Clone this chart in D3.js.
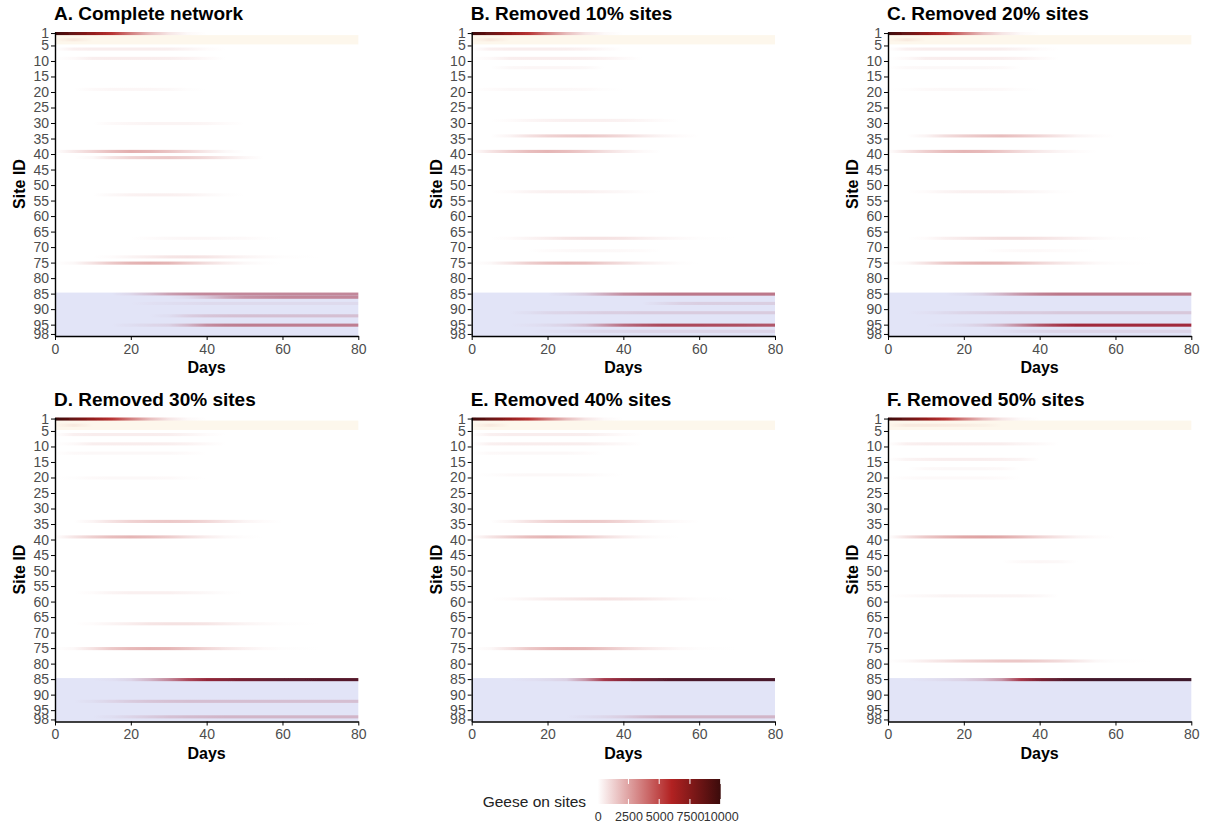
<!DOCTYPE html>
<html lang="en">
<head>
<meta charset="UTF-8">
<script src="https://d3js.org/d3.v7.min.js"></script>
<style>
  body { margin: 0; background: #fff; }
  svg text { font-family: "Liberation Sans", Arial, sans-serif; }
  .tick text { fill: #4d4d4d; font-size: 14px; }
  .tick line { stroke: #000; }
  .domain { stroke: #000; stroke-width: 1.4px; }
  .panel-title { font-size: 19px; font-weight: bold; fill: #000; }
  .axis-title { font-size: 16px; font-weight: bold; fill: #000; }
  .legend-title { font-size: 15.5px; fill: #222; }
  .legend .tick text { fill: #333; font-size: 12.5px; }
</style>
</head>
<body>
<svg width="1211" height="829"></svg>
<script>
// site ids, ticks
var siteIds = d3.range(1, 99);
var siteTicks = [1, 5, 10, 15, 20, 25, 30, 35, 40, 45, 50, 55, 60, 65, 70, 75, 80, 85, 90, 95, 98];
var dayTicks = [0, 20, 40, 60, 80];
var legendTicks = [0, 2500, 5000, 7500, 10000];
var yellowSites = [2, 4];
var blueSites = [85, 98];

var panelTitles = ["A. Complete network", "B. Removed 10% sites", "C. Removed 20% sites",
                   "D. Removed 30% sites", "E. Removed 40% sites", "F. Removed 50% sites"];

var stopDays = [0, 5, 10, 15, 20, 25, 30, 35, 40, 45, 50, 55, 60, 70, 80];

var sitesA = [1, 3, 6, 9, 19, 30, 39, 41, 53, 67, 73, 75, 85, 86, 88, 92, 95];
var geeseA = [
  [10000, 8500, 7000, 5500, 3500, 1800, 700, 150, 0, 0, 0, 0, 0, 0, 0],
  [0, 400, 0, 0, 0, 0, 0, 0, 0, 0, 0, 0, 0, 0, 0],
  [0, 400, 500, 500, 500, 500, 450, 300, 100, 0, 0, 0, 0, 0, 0],
  [0, 150, 450, 500, 500, 500, 450, 350, 150, 0, 0, 0, 0, 0, 0],
  [0, 0, 150, 250, 250, 250, 200, 50, 0, 0, 0, 0, 0, 0, 0],
  [0, 0, 0, 150, 250, 300, 300, 300, 250, 100, 0, 0, 0, 0, 0],
  [0, 600, 1200, 1800, 2200, 2000, 1600, 1100, 600, 200, 0, 0, 0, 0, 0],
  [0, 0, 200, 800, 1200, 1400, 1500, 1300, 1000, 600, 250, 0, 0, 0, 0],
  [0, 0, 0, 200, 350, 400, 400, 350, 200, 50, 0, 0, 0, 0, 0],
  [0, 0, 0, 0, 0, 100, 200, 250, 250, 200, 150, 50, 0, 0, 0],
  [0, 0, 0, 100, 300, 500, 700, 800, 700, 500, 300, 150, 50, 0, 0],
  [0, 200, 800, 1500, 2000, 2200, 2000, 1400, 900, 500, 200, 50, 0, 0, 0],
  [0, 0, 0, 0, 400, 1200, 2200, 2800, 3000, 3000, 3000, 3000, 3000, 3000, 3000],
  [0, 0, 0, 0, 0, 0, 0, 300, 1000, 2000, 2600, 2800, 3000, 3000, 3000],
  [0, 0, 0, 0, 0, 100, 200, 250, 300, 300, 300, 300, 300, 300, 300],
  [0, 0, 0, 0, 0, 0, 200, 700, 1000, 1100, 1200, 1200, 1200, 1200, 1200],
  [0, 0, 0, 0, 200, 400, 600, 1500, 2800, 3200, 3300, 3300, 3300, 3300, 3300]
];

var sitesB = [1, 3, 6, 9, 12, 19, 29, 34, 39, 52, 67, 71, 75, 85, 88, 91, 95, 97];
var geeseB = [
  [10000, 8500, 7000, 5500, 3500, 1800, 700, 150, 0, 0, 0, 0, 0, 0, 0],
  [0, 400, 0, 0, 0, 0, 0, 0, 0, 0, 0, 0, 0, 0, 0],
  [0, 400, 500, 500, 500, 450, 350, 150, 0, 0, 0, 0, 0, 0, 0],
  [0, 150, 450, 500, 500, 500, 450, 350, 150, 0, 0, 0, 0, 0, 0],
  [0, 0, 200, 250, 250, 250, 200, 0, 0, 0, 0, 0, 0, 0, 0],
  [0, 100, 200, 200, 200, 200, 150, 50, 0, 0, 0, 0, 0, 0, 0],
  [0, 0, 100, 250, 350, 400, 400, 400, 350, 250, 100, 0, 0, 0, 0],
  [0, 0, 300, 800, 1200, 1400, 1500, 1300, 1000, 600, 300, 100, 0, 0, 0],
  [0, 700, 1300, 1800, 2000, 1800, 1400, 900, 500, 150, 0, 0, 0, 0, 0],
  [0, 0, 100, 300, 400, 400, 400, 300, 200, 50, 0, 0, 0, 0, 0],
  [0, 0, 100, 300, 500, 700, 800, 800, 700, 500, 300, 150, 50, 0, 0],
  [0, 0, 0, 0, 100, 150, 200, 200, 150, 100, 0, 0, 0, 0, 0],
  [0, 200, 700, 1300, 1700, 1900, 1800, 1300, 900, 500, 250, 50, 0, 0, 0],
  [0, 0, 0, 0, 0, 300, 800, 1800, 2800, 3200, 3400, 3500, 3500, 3500, 3500],
  [0, 0, 0, 0, 0, 0, 0, 0, 0, 0, 300, 600, 700, 700, 700],
  [0, 0, 0, 200, 400, 500, 600, 700, 700, 800, 800, 800, 800, 800, 800],
  [0, 0, 0, 100, 300, 600, 1200, 2500, 3800, 4500, 5000, 5000, 5000, 4800, 4500],
  [0, 0, 0, 0, 100, 200, 300, 400, 400, 500, 500, 500, 500, 500, 500]
];

var sitesC = [1, 3, 6, 9, 12, 19, 34, 39, 52, 67, 71, 75, 85, 91, 95, 97];
var geeseC = [
  [10000, 8500, 7000, 5500, 3500, 1800, 700, 150, 0, 0, 0, 0, 0, 0, 0],
  [0, 400, 0, 0, 0, 0, 0, 0, 0, 0, 0, 0, 0, 0, 0],
  [0, 400, 500, 500, 500, 500, 450, 300, 100, 0, 0, 0, 0, 0, 0],
  [0, 150, 450, 500, 500, 500, 450, 350, 150, 0, 0, 0, 0, 0, 0],
  [0, 150, 200, 200, 200, 200, 150, 0, 0, 0, 0, 0, 0, 0, 0],
  [0, 50, 150, 200, 200, 200, 150, 50, 0, 0, 0, 0, 0, 0, 0],
  [0, 0, 300, 900, 1300, 1600, 1800, 1500, 1100, 700, 300, 100, 0, 0, 0],
  [0, 700, 1300, 1800, 2000, 1900, 1500, 1000, 600, 300, 100, 0, 0, 0, 0],
  [0, 0, 100, 300, 400, 400, 400, 300, 200, 50, 0, 0, 0, 0, 0],
  [0, 0, 100, 400, 600, 800, 900, 900, 800, 600, 400, 200, 50, 0, 0],
  [0, 0, 0, 0, 0, 0, 100, 150, 150, 100, 50, 0, 0, 0, 0],
  [0, 200, 800, 1500, 1900, 2100, 2000, 1600, 1100, 700, 400, 150, 50, 0, 0],
  [0, 0, 0, 0, 200, 600, 1500, 2500, 3200, 3500, 3500, 3500, 3500, 3500, 3500],
  [0, 0, 100, 300, 500, 600, 700, 800, 800, 900, 900, 900, 900, 900, 900],
  [0, 0, 0, 100, 300, 700, 1500, 3000, 4500, 5500, 6000, 6000, 6000, 6000, 6000],
  [0, 0, 0, 0, 0, 0, 100, 300, 400, 500, 500, 500, 500, 500, 500]
];

var sitesD = [1, 3, 6, 9, 12, 20, 34, 39, 57, 67, 75, 85, 92, 97];
var geeseD = [
  [10000, 8500, 7000, 5500, 3500, 1800, 700, 150, 0, 0, 0, 0, 0, 0, 0],
  [0, 400, 0, 0, 0, 0, 0, 0, 0, 0, 0, 0, 0, 0, 0],
  [0, 400, 500, 500, 500, 500, 450, 300, 100, 0, 0, 0, 0, 0, 0],
  [0, 150, 450, 500, 500, 500, 450, 350, 150, 0, 0, 0, 0, 0, 0],
  [0, 150, 200, 200, 200, 200, 200, 100, 0, 0, 0, 0, 0, 0, 0],
  [0, 50, 150, 200, 200, 200, 150, 50, 0, 0, 0, 0, 0, 0, 0],
  [0, 0, 300, 800, 1200, 1400, 1500, 1400, 1100, 700, 300, 100, 0, 0, 0],
  [0, 700, 1300, 1800, 2000, 1800, 1400, 900, 500, 200, 50, 0, 0, 0, 0],
  [0, 0, 100, 300, 400, 400, 400, 300, 200, 50, 0, 0, 0, 0, 0],
  [0, 0, 100, 300, 500, 700, 800, 800, 700, 500, 300, 150, 50, 0, 0],
  [0, 200, 800, 1500, 1900, 2100, 2000, 1600, 1100, 700, 400, 150, 50, 0, 0],
  [0, 0, 0, 100, 500, 1500, 3000, 5000, 6500, 7200, 7800, 8300, 8700, 9000, 9000],
  [0, 0, 200, 500, 800, 1000, 1100, 1200, 1200, 1200, 1200, 1200, 1200, 1200, 1200],
  [0, 0, 0, 200, 500, 800, 1100, 1300, 1400, 1500, 1500, 1500, 1500, 1500, 1500]
];

var sitesE = [1, 3, 6, 9, 12, 19, 34, 39, 59, 75, 85, 97];
var geeseE = [
  [10000, 8500, 7000, 5500, 3500, 1800, 700, 150, 0, 0, 0, 0, 0, 0, 0],
  [0, 400, 0, 0, 0, 0, 0, 0, 0, 0, 0, 0, 0, 0, 0],
  [0, 400, 500, 500, 500, 500, 450, 300, 100, 0, 0, 0, 0, 0, 0],
  [0, 400, 500, 500, 500, 500, 450, 300, 150, 0, 0, 0, 0, 0, 0],
  [0, 150, 200, 200, 200, 200, 100, 0, 0, 0, 0, 0, 0, 0, 0],
  [0, 50, 150, 200, 200, 200, 150, 50, 0, 0, 0, 0, 0, 0, 0],
  [0, 0, 300, 800, 1200, 1400, 1500, 1400, 1100, 700, 300, 100, 0, 0, 0],
  [0, 700, 1300, 1800, 2000, 1800, 1400, 900, 500, 200, 50, 0, 0, 0, 0],
  [0, 0, 100, 300, 500, 600, 700, 800, 700, 600, 400, 200, 50, 0, 0],
  [0, 200, 800, 1500, 1900, 2100, 2000, 1600, 1100, 700, 400, 150, 50, 0, 0],
  [0, 0, 0, 100, 300, 600, 2500, 5500, 7000, 8000, 8800, 9300, 9500, 9500, 9500],
  [0, 0, 0, 0, 0, 0, 200, 400, 700, 1200, 1500, 1500, 1500, 1500, 1500]
];

var sitesF = [1, 3, 9, 14, 17, 20, 39, 47, 58, 79, 85];
var geeseF = [
  [10000, 8500, 7000, 5500, 3500, 1800, 700, 150, 0, 0, 0, 0, 0, 0, 0],
  [0, 400, 400, 350, 300, 200, 0, 0, 0, 0, 0, 0, 0, 0, 0],
  [0, 400, 500, 500, 500, 500, 450, 300, 150, 0, 0, 0, 0, 0, 0],
  [0, 300, 400, 450, 450, 450, 400, 300, 0, 0, 0, 0, 0, 0, 0],
  [0, 0, 150, 200, 200, 200, 150, 0, 0, 0, 0, 0, 0, 0, 0],
  [0, 100, 150, 150, 150, 150, 100, 0, 0, 0, 0, 0, 0, 0, 0],
  [0, 800, 1500, 2000, 2400, 2500, 2300, 1800, 1200, 700, 300, 100, 0, 0, 0],
  [0, 0, 0, 0, 0, 0, 0, 150, 250, 200, 0, 0, 0, 0, 0],
  [0, 100, 200, 300, 300, 300, 300, 300, 200, 0, 0, 0, 0, 0, 0],
  [0, 200, 500, 800, 1100, 1300, 1500, 1500, 1300, 1000, 600, 200, 50, 0, 0],
  [0, 0, 100, 300, 600, 1200, 2500, 5500, 7500, 8800, 9500, 9800, 10000, 10000, 10000]
];

var panelSites = [sitesA, sitesB, sitesC, sitesD, sitesE, sitesF];
var panelGeese = [geeseA, geeseB, geeseC, geeseD, geeseE, geeseF];

var svg = d3.select("svg");
var defs = svg.append("defs");

// soften the rows a little, like the original raster
defs.append("filter").attr("id", "soft")
    .attr("x", "-2%").attr("y", "-50%").attr("width", "104%").attr("height", "200%")
    .append("feGaussianBlur").attr("stdDeviation", "0.6 0.45");

var geeseColor = d3.scaleLinear()
    .domain([0, 6000, 12000])
    .range(["#ffffff", "#b22222", "#000000"])
    .clamp(true);

var colLeft = [55, 471.7, 888];
var rowTop = [32, 417.5];
var plotW = 303.3, plotH = 304;

panelTitles.forEach(function(title, i) {
    var x0 = colLeft[i % 3], y0 = rowTop[Math.floor(i / 3)];
    var x = d3.scaleLinear().domain([0, 80]).range([x0, x0 + plotW]);
    var y = d3.scaleBand().domain(siteIds).range([y0, y0 + plotH]);
    var g = svg.append("g");
    var rows = g.append("g").attr("filter", "url(#soft)");

    // one row per site, coloured along the days with a gradient
    panelSites[i].forEach(function(site, j) {
        var id = "heat-" + i + "-" + site;
        var grad = defs.append("linearGradient")
            .attr("id", id)
            .attr("gradientUnits", "userSpaceOnUse")
            .attr("x1", x(0)).attr("x2", x(80))
            .attr("y1", 0).attr("y2", 0);
        stopDays.forEach(function(d, k) {
            grad.append("stop")
                .attr("offset", (x(d) - x(0)) / (x(80) - x(0)))
                .attr("stop-color", geeseColor(panelGeese[i][j][k]));
        });
        rows.append("rect")
            .attr("x", x(0))
            .attr("y", y(site))
            .attr("width", x(80) - x(0))
            .attr("height", y.bandwidth())
            .attr("fill", "url(#" + id + ")");
    });

    // highlighted site groups
    g.append("rect")
        .attr("x", x(0)).attr("width", x(80) - x(0))
        .attr("y", y(yellowSites[0]))
        .attr("height", y(yellowSites[1]) + y.bandwidth() - y(yellowSites[0]))
        .attr("fill", "#f0c070").attr("opacity", 0.13);
    g.append("rect")
        .attr("x", x(0)).attr("width", x(80) - x(0))
        .attr("y", y(blueSites[0]))
        .attr("height", y(blueSites[1]) + y.bandwidth() - y(blueSites[0]))
        .attr("fill", "#4a5ad0").attr("opacity", 0.16);

    svg.append("g")
        .attr("transform", "translate(" + x0 + ",0)")
        .call(d3.axisLeft(y).tickValues(siteTicks).tickSize(4).tickPadding(2).tickSizeOuter(0));

    svg.append("g")
        .attr("transform", "translate(0," + (y0 + plotH) + ")")
        .call(d3.axisBottom(x).tickValues(dayTicks).tickSize(4).tickPadding(4).tickSizeOuter(0));

    svg.append("text")
        .attr("class", "panel-title")
        .attr("x", x0 - 1)
        .attr("y", y0 - 12)
        .text(title);

    svg.append("text")
        .attr("class", "axis-title")
        .attr("text-anchor", "middle")
        .attr("x", x0 + plotW / 2)
        .attr("y", y0 + plotH + 37)
        .text("Days");

    svg.append("text")
        .attr("class", "axis-title")
        .attr("text-anchor", "middle")
        .attr("transform", "translate(" + (x0 - 30) + "," + (y0 + plotH / 2) + ") rotate(-90)")
        .text("Site ID");
});

// colour bar legend
var legendX = d3.scaleLinear().domain([0, 10000]).range([597.7, 720.7]);
var barTop = 779, barH = 25;

var lg = defs.append("linearGradient")
    .attr("id", "legend-grad")
    .attr("gradientUnits", "userSpaceOnUse")
    .attr("x1", legendX(0)).attr("x2", legendX(10000))
    .attr("y1", 0).attr("y2", 0);
[0, 6000, 10000].forEach(function(v) {
    lg.append("stop")
        .attr("offset", (legendX(v) - legendX(0)) / (legendX(10000) - legendX(0)))
        .attr("stop-color", geeseColor(v));
});

var legend = svg.append("g").attr("class", "legend");
legend.append("rect")
    .attr("x", legendX(0)).attr("y", barTop)
    .attr("width", legendX(10000) - legendX(0)).attr("height", barH)
    .attr("fill", "url(#legend-grad)");

legendTicks.forEach(function(t) {
    legend.append("line")
        .attr("x1", legendX(t)).attr("x2", legendX(t))
        .attr("y1", barTop).attr("y2", barTop + 5)
        .attr("stroke", "#fff").attr("stroke-width", 1);
    legend.append("line")
        .attr("x1", legendX(t)).attr("x2", legendX(t))
        .attr("y1", barTop + barH - 5).attr("y2", barTop + barH)
        .attr("stroke", "#fff").attr("stroke-width", 1);
});

legend.append("g")
    .attr("transform", "translate(0," + (barTop + barH) + ")")
    .call(d3.axisBottom(legendX).tickValues(legendTicks).tickSize(0).tickPadding(8).tickFormat(d3.format("d")))
    .call(function(a) { a.select(".domain").remove(); });

legend.append("text")
    .attr("class", "legend-title")
    .attr("x", 482.7)
    .attr("y", 806.5)
    .text("Geese on sites");
</script>
</body>
</html>
